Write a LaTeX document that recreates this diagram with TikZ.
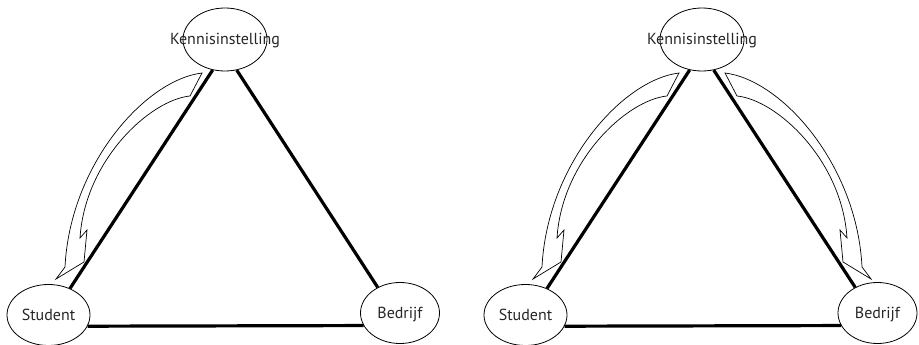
\documentclass[tikz,border=0pt]{standalone}
\usepackage{fontspec}
\setmainfont{PT Sans}
\usetikzlibrary{shapes.geometric}
\definecolor{ink}{gray}{0.15}
\tikzset{
  party/.style={ellipse, draw=black, line width=0.8pt, inner sep=0pt,
    minimum width=82pt, minimum height=61pt, text height=11pt, text depth=0pt,
    font=\fontsize{16pt}{18pt}\selectfont, text=ink},
  link/.style={line width=3.2pt, black},
  flowshape/.style={draw=black, line width=0.7pt, line join=miter},
  flow/.pic={
    \draw[flowshape] (-23,33.5) .. controls (-80,40.5) and (-155,125.5) .. (-160,227.5)
      -- (-169,239.5) -- (-141,222.5) -- (-138,190.5) -- (-145,198.5)
      .. controls (-140,120.5) and (-75,60.5) .. (-35,56.5) -- cycle;
  }
}
\newcommand{\lbl}[1]{\makebox[0pt]{#1}}
\begin{document}
\begin{tikzpicture}[x=1pt, y=-1pt]
  \useasboundingbox (0,0) rectangle (919,345);

  % first triangle: one flow, from Kennisinstelling to Student
  \node[party, minimum width=84pt, minimum height=63pt] (k1) at (225,39.5) {\lbl{Kennisinstelling}};
  \node[party, minimum width=83pt] (s1) at (48.5,315) {\lbl{Student}};
  \node[party, minimum width=79pt] (b1) at (400,313) {\lbl{Bedrijf}};
  \pic at (k1.center) {flow};
  \draw[link] (k1.248.5) -- (s1.51.5);
  \draw[link] (k1.291.5) -- (b1.131);
  \draw[link] (s1.344) -- (b1.199);

  % second triangle: flows to Student and to Bedrijf
  \node[party, minimum width=84pt, minimum height=63pt] (k2) at (702,39.5) {\lbl{Kennisinstelling}};
  \node[party, minimum width=83pt] (s2) at (525.5,315) {\lbl{Student}};
  \node[party, minimum width=79pt] (b2) at (877.5,313) {\lbl{Bedrijf}};
  \pic at (k2.center) {flow};
  \pic[xscale=-1] at (k2.center) {flow};
  \draw[link] (k2.248.5) -- (s2.51.5);
  \draw[link] (k2.291.5) -- (b2.131);
  \draw[link] (s2.344) -- (b2.199);
\end{tikzpicture}
\end{document}
